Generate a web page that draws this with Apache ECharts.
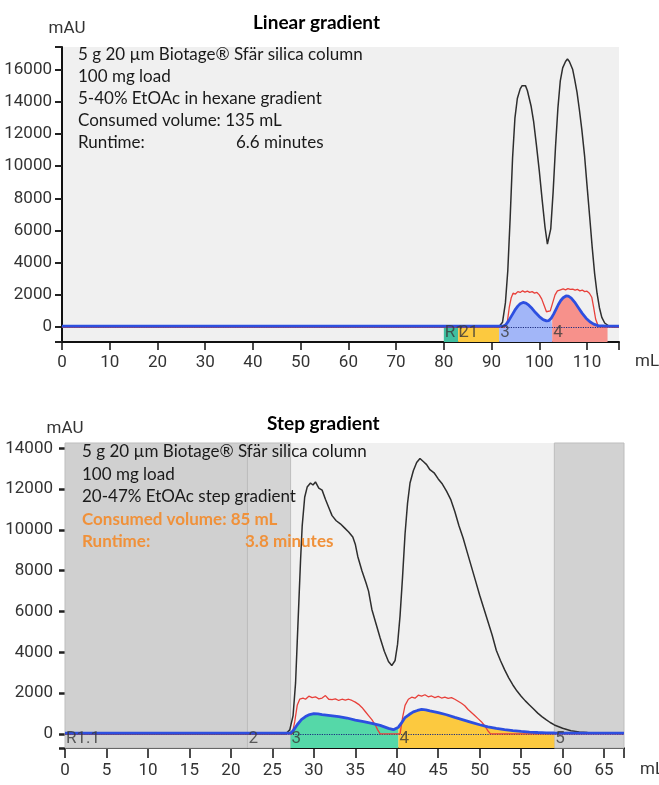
<!DOCTYPE html>
<html><head><meta charset="utf-8">
<script src="https://cdn.jsdelivr.net/npm/echarts@6/dist/echarts.min.js"></script>
<style>html,body{margin:0;padding:0;background:#fff}#c{width:659px;height:785px}</style>
</head><body><div id="c"></div>
<script>
// ---------- texts ----------
const linearTitle = 'Linear gradient';
const stepTitle = 'Step gradient';
const linearNotes = ['5 g 20 µm Biotage® Sfär silica column', '100 mg load', '5-40% EtOAc in hexane gradient', 'Consumed volume: 135 mL', 'Runtime:'];
const linearRuntime = '6.6 minutes';
const stepNotes = ['5 g 20 µm Biotage® Sfär silica column', '100 mg load', '20-47% EtOAc step gradient', 'Consumed volume: 85 mL', 'Runtime:'];
const stepRuntime = '3.8 minutes';
const yUnit = 'mAU';
const xUnit = 'mL';

// ---------- ticks ----------
const linearYTicks = [0, 2000, 4000, 6000, 8000, 10000, 12000, 14000, 16000];
const linearXTicks = [0, 10, 20, 30, 40, 50, 60, 70, 80, 90, 100, 110];
const stepYTicks = [0, 2000, 4000, 6000, 8000, 10000, 12000, 14000];
const stepXTicks = [0, 5, 10, 15, 20, 25, 30, 35, 40, 45, 50, 55, 60, 65];

// ---------- axis ranges ----------
const linearXMax = 116.7, linearYMin = -930, linearYMax = 17400;
const stepXMax = 67.4, stepYMin = -690, stepYMax = 14260;

// ---------- linear gradient traces [mL, mAU] ----------
const linearUV = [[0,0],[91.5,0],[92.3,300],[92.9,1500],[93.4,3500],[93.9,6800],[94.4,10500],[94.9,13000],[95.4,14200],[96.0,14800],[96.4,15000],[96.8,14900],[97.1,15000],[97.5,14700],[97.9,14200],[98.3,13700],[98.8,12800],[99.4,11300],[100.0,9700],[100.6,7900],[101.2,6200],[101.7,5150],[102.0,5200],[102.4,6100],[102.9,8400],[103.4,11200],[103.9,13600],[104.4,15300],[104.9,16100],[105.5,16500],[105.9,16650],[106.3,16500],[106.6,16450],[107.0,16000],[107.4,15400],[107.9,14600],[108.4,13500],[108.9,12300],[109.5,10600],[110.0,8800],[110.6,6700],[111.1,4900],[111.6,3300],[112.1,2100],[112.6,1200],[113.1,600],[113.7,250],[114.5,80],[115.5,0],[116.7,0]];
const linearRed = [[0,0],[92.8,0],[93.3,300],[93.7,1200],[94.1,1800],[94.5,2100],[95.0,2050],[95.5,2200],[96.0,2150],[96.5,2250],[97.0,2170],[97.5,2230],[98.0,2150],[98.5,2200],[99.0,2110],[99.5,2150],[100.0,2000],[100.5,1750],[101.0,1350],[101.5,950],[101.9,850],[102.3,1000],[102.8,1500],[103.3,2000],[103.8,2250],[104.3,2300],[105.0,2370],[105.5,2310],[106.0,2390],[106.5,2340],[107.0,2360],[107.5,2290],[108.0,2340],[108.5,2250],[109.0,2300],[109.5,2200],[110.0,2230],[110.5,2100],[111.0,1850],[111.4,1200],[111.8,500],[112.3,100],[113.0,0],[116.7,0]];
const linearBlue = [[0,60],[91.6,60],[92.5,70],[93.0,150],[93.5,350],[94.0,600],[94.5,850],[95.0,1100],[95.5,1300],[96.0,1450],[96.6,1530],[97.2,1490],[97.8,1360],[98.5,1150],[99.2,900],[100.0,650],[100.8,460],[101.5,380],[102.0,400],[102.5,550],[102.7,650],[103.0,800],[103.5,1100],[104.0,1400],[104.5,1650],[105.0,1820],[105.6,1930],[106.1,1920],[106.7,1800],[107.4,1550],[108.2,1200],[109.0,850],[109.8,550],[110.6,330],[111.4,180],[112.3,90],[114.3,60],[116.7,60]];
const linearFractionLabels = ['R1', '21', '3', '4'];
const linearFractionStart = [80, 83, 91.6, 102.7];
const linearFractionEnd = [83, 91.6, 102.7, 114.3];

// ---------- step gradient traces [mL, mAU] ----------
const stepUV = [[0,0],[26.6,0],[27.1,200],[27.5,900],[27.8,2500],[28.0,4500],[28.2,6500],[28.4,8500],[28.6,10200],[28.9,11600],[29.2,12100],[29.6,12300],[29.9,12200],[30.2,12350],[30.6,12050],[31.0,11950],[31.4,11500],[31.8,11100],[32.2,10700],[32.7,10450],[33.2,10300],[33.7,10100],[34.2,9900],[34.7,9650],[35.0,9300],[35.3,8700],[35.8,8000],[36.3,7400],[36.6,7000],[37.0,6100],[37.5,5400],[38.0,4700],[38.5,4050],[39.0,3550],[39.4,3350],[39.8,3600],[40.1,4400],[40.4,5800],[40.7,7700],[41.0,9800],[41.3,11300],[41.6,12300],[42.0,12900],[42.4,13300],[42.8,13500],[43.2,13350],[43.6,13200],[44.0,12950],[44.5,12800],[45.0,12500],[45.5,12250],[46.0,11900],[46.5,11500],[47.0,10900],[47.5,10200],[48.0,9600],[48.5,8900],[49.0,8200],[49.5,7500],[50.0,6800],[50.5,6150],[51.0,5500],[51.5,4850],[52.0,4100],[52.5,3600],[53.0,3150],[53.5,2750],[54.0,2400],[54.5,2100],[55.0,1850],[55.5,1620],[56.0,1420],[56.5,1220],[57.0,1020],[57.5,850],[58.0,700],[58.5,560],[59.0,440],[60.0,280],[61.0,160],[62.0,100],[63.0,65],[64.0,45],[65.0,30],[67.4,20]];
const stepRed = [[0,0],[27.4,0],[27.7,600],[28.0,1400],[28.3,1700],[28.7,1750],[29.0,1700],[29.4,1850],[29.8,1780],[30.2,1820],[30.6,1720],[31.0,1760],[31.4,1880],[31.8,1700],[32.2,1680],[32.6,1720],[33.0,1640],[33.4,1700],[33.8,1660],[34.2,1700],[34.6,1640],[35.0,1560],[35.4,1450],[35.8,1300],[36.2,1100],[36.6,900],[37.0,700],[37.4,450],[37.7,200],[38.0,0],[40.4,0],[40.7,800],[41.0,1400],[41.4,1700],[41.8,1800],[42.2,1750],[42.6,1900],[43.0,1850],[43.4,1920],[43.8,1820],[44.2,1860],[44.6,1780],[45.0,1840],[45.4,1760],[45.8,1800],[46.2,1740],[46.6,1780],[47.0,1700],[47.4,1600],[47.8,1500],[48.2,1380],[48.6,1200],[49.0,1050],[49.4,900],[49.8,750],[50.2,600],[50.6,400],[51.0,150],[51.3,0],[67.4,0]];
const stepBlue = [[0,40],[27.2,40],[27.5,150],[28.0,450],[28.5,700],[29.0,850],[29.5,950],[30.0,990],[30.5,980],[31.0,950],[32.0,900],[33.0,850],[34.0,780],[35.0,680],[36.0,600],[37.0,520],[38.0,420],[39.0,270],[39.6,210],[40.2,330],[40.6,550],[41.0,800],[41.5,950],[42.0,1080],[42.5,1150],[43.0,1200],[43.5,1180],[44.0,1130],[45.0,1040],[46.0,940],[47.0,810],[48.0,690],[49.0,570],[50.0,450],[51.0,350],[52.0,270],[53.0,210],[54.0,160],[55.0,120],[56.0,90],[57.0,70],[58.0,55],[59.0,45],[67.4,40]];
const stepFractionLabels = ['R1.1', '2', '3', '4', '5'];
const stepFractionStart = [0, 22, 27.2, 40.2, 59];
const stepFractionEnd = [22, 27.2, 40.2, 59, 67.4];

// ---------- styles ----------
const axisFont = 'Roboto, "Liberation Sans", sans-serif';
const body = 'Lato, "Open Sans", sans-serif';
const clear = 'rgba(0,0,0,0)';
const linearFractionFill = ['#3fbf9f', '#fcc93f', '#a2b6f8', '#f7918b'];
const stepFractionFill = [clear, clear, '#55d8a8', '#fcc93f', clear];
const stepShade = ['#d0d0d0', '#d4d4d4', null, null, '#d2d2d2'];
const colUV = '#2e2e2e', colRed = '#e8403a', colBlue = '#2d4fe0';

function xAxisCfg(gi, max, ticks, tickLen, margin, nameGap, namePad) {
  return {
    type: 'value', gridIndex: gi, min: 0, max: max,
    name: xUnit, nameLocation: 'end', nameGap: nameGap,
    nameTextStyle: {fontFamily: axisFont, fontSize: 17, color: '#333', verticalAlign: 'top', padding: [namePad, 0, 0, 0]},
    axisLine: {show: true, onZero: false, lineStyle: {color: '#111', width: 2}},
    axisTick: {show: true, length: tickLen, customValues: ticks.concat([max]), lineStyle: {color: '#111', width: 1.5}},
    axisLabel: {customValues: ticks, formatter: v => String(v), fontFamily: axisFont, fontSize: 17, color: '#333', margin: margin},
    splitLine: {show: false}
  };
}
function yAxisCfg(gi, min, max, ticks, showLine, tickLen, tickW, margin, extraTicks, namePad, nameGap) {
  return {
    type: 'value', gridIndex: gi, min: min, max: max,
    name: yUnit, nameLocation: 'end', nameGap: nameGap,
    nameTextStyle: {fontFamily: axisFont, fontSize: 17, color: '#333', align: 'center', padding: namePad},
    axisLine: {show: showLine, lineStyle: {color: '#111', width: 2}},
    axisTick: {show: true, length: tickLen, customValues: ticks.concat(extraTicks), lineStyle: {color: '#222', width: tickW}},
    axisLabel: {customValues: ticks, formatter: v => String(v), fontFamily: axisFont, fontSize: 17, color: '#333', margin: margin},
    splitLine: {show: false}
  };
}

function lineSeries(gi, data, color, width, z, extra) {
  return Object.assign({
    type: 'line', xAxisIndex: gi, yAxisIndex: gi, data: data, symbol: 'none', showSymbol: false,
    lineStyle: {color: color, width: width}, z: z, silent: true, animation: false
  }, extra || {});
}
function fillSeries(gi, trace, s, e, color) {
  return lineSeries(gi, trace.filter(p => p[0] >= s && p[0] <= e), color, 0, 3, {areaStyle: {color: color, opacity: 1}, lineStyle: {width: 0}});
}
function stripSeries(gi, labels, starts, ends, fills, ymin) {
  return {
    type: 'line', xAxisIndex: gi, yAxisIndex: gi, data: [], z: 2, silent: true, animation: false,
    markArea: {
      silent: true, label: {show: false},
      data: labels.map((l, i) => [
        {xAxis: starts[i], yAxis: ymin, itemStyle: {color: fills[i]}},
        {xAxis: ends[i], yAxis: 0}
      ])
    }
  };
}
function labelSeries(gi, labels, starts, ymin) {
  return {
    type: 'scatter', xAxisIndex: gi, yAxisIndex: gi, z: 9, silent: true, animation: false,
    symbolSize: 0, itemStyle: {color: clear},
    data: labels.map((l, i) => ({name: l, value: [starts[i], ymin / 2]})),
    label: {show: true, position: 'right', distance: 1, offset: [0, -2], formatter: '{b}', fontFamily: axisFont, fontSize: 17, color: '#3a3a3a'}
  };
}

const series = [];
// linear (grid 0)
series.push(stripSeries(0, linearFractionLabels, linearFractionStart, linearFractionEnd, linearFractionFill, linearYMin));
series.push(fillSeries(0, linearBlue, linearFractionStart[2], linearFractionEnd[2], linearFractionFill[2]));
series.push(fillSeries(0, linearBlue, linearFractionStart[3], linearFractionEnd[3], linearFractionFill[3]));
series.push(lineSeries(0, linearUV, colUV, 1.5, 5));
series.push(lineSeries(0, linearRed, colRed, 1.3, 6));
series.push(lineSeries(0, linearBlue, colBlue, 2.8, 7, {
  markLine: {silent: true, symbol: 'none', label: {show: false}, data: [{yAxis: 0}], lineStyle: {color: '#1c2c80', type: 'dotted', width: 1.2}, animation: false}
}));
series.push(labelSeries(0, linearFractionLabels, linearFractionStart, linearYMin));
// step (grid 1)
series.push({
  type: 'line', xAxisIndex: 1, yAxisIndex: 1, data: [], z: 1, silent: true, animation: false,
  markArea: {silent: true, data: stepFractionLabels.map((l, i) => stepShade[i] ? [
    {xAxis: stepFractionStart[i], itemStyle: {color: stepShade[i], borderColor: '#bdbdbd', borderWidth: 1}},
    {xAxis: stepFractionEnd[i]}
  ] : null).filter(Boolean)}
});
series.push(stripSeries(1, stepFractionLabels, stepFractionStart, stepFractionEnd, stepFractionFill, stepYMin));
series.push(fillSeries(1, stepBlue, stepFractionStart[2], stepFractionEnd[2], stepFractionFill[2]));
series.push(fillSeries(1, stepBlue, stepFractionStart[3], stepFractionEnd[3], stepFractionFill[3]));
series.push(lineSeries(1, stepUV, colUV, 1.5, 5));
series.push(lineSeries(1, stepRed, colRed, 1.3, 6));
series.push(lineSeries(1, stepBlue, colBlue, 2.8, 7, {
  markLine: {silent: true, symbol: 'none', label: {show: false}, data: [{yAxis: 0}], lineStyle: {color: '#1c2c80', type: 'dotted', width: 1.2}, animation: false}
}));
series.push(labelSeries(1, stepFractionLabels, stepFractionStart, stepYMin));

// notes as text
const graphics = [];
linearNotes.forEach((t, i) => graphics.push({type: 'text', z: 100, x: 78, y: 55 + i * 22, style: {text: t, font: '17px ' + body, fill: '#1a1a1a', verticalAlign: 'middle'}}));
graphics.push({type: 'text', z: 100, x: 236, y: 55 + 4 * 22, style: {text: linearRuntime, font: '17px ' + body, fill: '#1a1a1a', verticalAlign: 'middle'}});
stepNotes.forEach((t, i) => graphics.push({type: 'text', z: 100, x: 82, y: 452 + i * 22.5, style: {text: t, font: (i >= 3 ? 'bold ' : '') + '17px ' + body, fill: i >= 3 ? '#f0913a' : '#1a1a1a', verticalAlign: 'middle'}}));
graphics.push({type: 'text', z: 100, x: 245, y: 452 + 4 * 22.5, style: {text: stepRuntime, font: 'bold 17px ' + body, fill: '#f0913a', verticalAlign: 'middle'}});

const chart = echarts.init(document.getElementById('c'), null, {renderer: 'canvas'});
chart.setOption({
  animation: false,
  backgroundColor: '#fff',
  title: [
    {text: linearTitle, left: 248, top: 8, textStyle: {fontFamily: body, fontWeight: 'bold', fontSize: 19, color: '#000'}},
    {text: stepTitle, left: 262, top: 409, textStyle: {fontFamily: body, fontWeight: 'bold', fontSize: 19, color: '#000'}}
  ],
  grid: [
    {left: 62, top: 47, width: 557, height: 295, show: true, backgroundColor: '#f0f0f0', borderWidth: 0, containLabel: false, outerBoundsMode: 'none'},
    {left: 65, top: 443, width: 559, height: 305, show: true, backgroundColor: '#f0f0f0', borderWidth: 0, containLabel: false, outerBoundsMode: 'none'}
  ],
  xAxis: [
    xAxisCfg(0, linearXMax, linearXTicks, 8, 12, 16, 11),
    xAxisCfg(1, stepXMax, stepXTicks, 10, 14, 16, 13)
  ],
  yAxis: [
    yAxisCfg(0, linearYMin, linearYMax, linearYTicks, true, 7, 2, 10, [linearYMin, linearYMax], [0, 0, 0, 10], 10),
    yAxisCfg(1, stepYMin, stepYMax, stepYTicks, false, 6, 2.5, 12, [stepYMin], [0, 0, 0, 0], 6)
  ],
  graphic: graphics,
  series: series
});
</script></body></html>
